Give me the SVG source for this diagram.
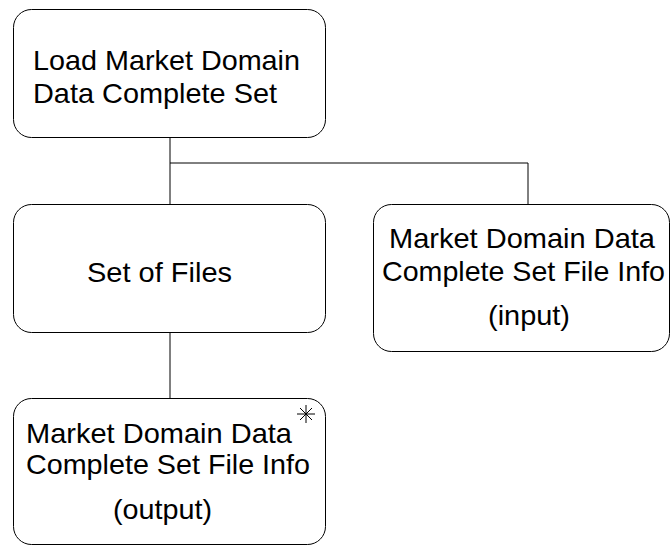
<svg xmlns="http://www.w3.org/2000/svg" width="671" height="546" viewBox="0 0 671 546">
<style>
.box{fill:#fff;stroke:#000;stroke-width:1}
.t{font-family:"Liberation Sans",Arial,sans-serif;font-size:28px;fill:#000}
.c{fill:none;stroke:#000;stroke-width:1}
</style>
<rect width="671" height="546" fill="#fff"/>
<g id="connectors">
<path class="c" d="M170 138V204M170 163H528V204M170 333V398"/>
</g>
<g id="n1">
<rect class="box" x="13.5" y="9.5" width="312" height="128" rx="18"/>
<text class="t" x="33" y="70" textLength="267" lengthAdjust="spacingAndGlyphs">Load Market Domain</text>
<text class="t" x="33" y="103" textLength="244" lengthAdjust="spacingAndGlyphs">Data Complete Set</text>
</g>
<g id="n2">
<rect class="box" x="13.5" y="204.5" width="312" height="128" rx="18"/>
<text class="t" x="87" y="282" textLength="145" lengthAdjust="spacingAndGlyphs">Set of Files</text>
</g>
<g id="n3">
<rect class="box" x="373.5" y="204.5" width="296" height="147" rx="18"/>
<text class="t" x="389" y="248" textLength="266" lengthAdjust="spacingAndGlyphs">Market Domain Data</text>
<text class="t" x="382" y="281" textLength="283" lengthAdjust="spacingAndGlyphs">Complete Set File Info</text>
<text class="t" x="488" y="325" textLength="82" lengthAdjust="spacingAndGlyphs">(input)</text>
</g>
<g id="n4">
<rect class="box" x="13.5" y="398.5" width="312" height="146" rx="18"/>
<text class="t" x="26" y="443" textLength="266" lengthAdjust="spacingAndGlyphs">Market Domain Data</text>
<text class="t" x="26" y="474" textLength="284" lengthAdjust="spacingAndGlyphs">Complete Set File Info</text>
<text class="t" x="113" y="519" textLength="99" lengthAdjust="spacingAndGlyphs">(output)</text>
<path class="c" d="M306 405V423M297 414H315M300 408L312 420M312 408L300 420"/>
</g>
</svg>
